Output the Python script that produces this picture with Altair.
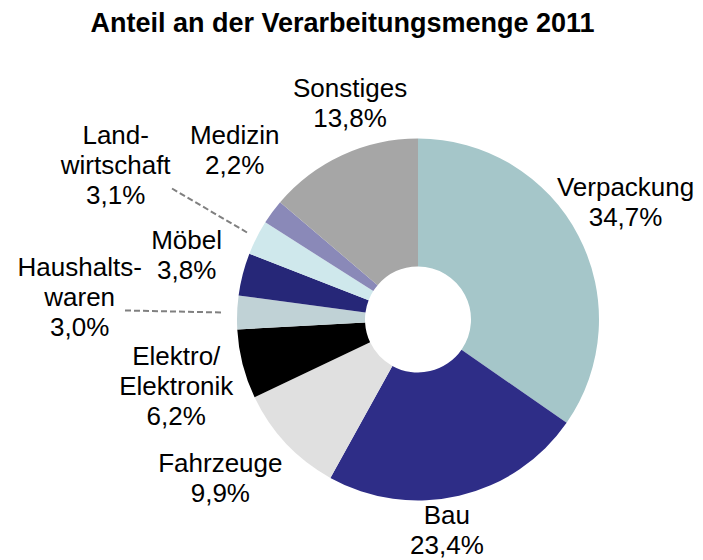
import math
import altair as alt
import pandas as pd

# ---- data ----
categories = ["Verpackung", "Bau", "Fahrzeuge", "Elektro/Elektronik", "Haushaltswaren",
              "Möbel", "Landwirtschaft", "Medizin", "Sonstiges"]
shares = [34.7, 23.4, 9.9, 6.2, 3.0, 3.8, 3.1, 2.2, 13.8]
label_names = ["Verpackung", "Bau", "Fahrzeuge", "Elektro/\nElektronik", "Haushalts-\nwaren",
               "Möbel", "Land-\nwirtschaft", "Medizin", "Sonstiges"]
colors = ["#A5C6C9", "#2E2D87", "#E0E0E0", "#000000", "#C0D2D6",
          "#262778", "#CFE8EC", "#8A89B8", "#A6A6A6"]

# ---- label placement (polar, block centre relative to the donut centre) ----
label_angle_deg = [60.7, 172.2, 231.1, 254.4, 273.6, 285.4, 296.9, 312.6, 342.5]
label_radius = [238, 213, 254, 251, 339, 240, 339, 249, 226]

# leader lines (offsets from centre, px)
conn_x1 = [-246, -293]
conn_y1 = [-131, -9]
conn_x2 = [-171, -195]
conn_y2 = [-87, -7]

W, H = 687, 512
CX = 410
TOP = 39
CY = 316.5 - TOP
R_OUT, R_IN = 181, 53
FONT = "Liberation Sans"
FS, LH = 26, 30


def fmt(v):
    return f"{v:.1f}".replace(".", ",") + "%"


labels_txt = [f"{n}\n{fmt(v)}" for n, v in zip(label_names, shares)]
lx, ly = [], []
for a, r, t in zip(label_angle_deg, label_radius, labels_txt):
    n = t.count("\n") + 1
    lx.append(CX + r * math.sin(math.radians(a)))
    # Vega anchors the first line; shift up so the block is centred
    ly.append(CY - r * math.cos(math.radians(a)) - (n - 1) * LH / 2)

df = pd.DataFrame({
    "cat": categories,
    "share": shares,
    "idx": list(range(len(categories))),
    "label": labels_txt,
    "lx": lx,
    "ly": ly,
})

conn = pd.DataFrame({
    "x1": [CX + v for v in conn_x1], "y1": [CY + v for v in conn_y1],
    "x2": [CX + v for v in conn_x2], "y2": [CY + v for v in conn_y2],
})

arcs = alt.Chart(df).mark_arc(innerRadius=R_IN, outerRadius=R_OUT).encode(
    theta=alt.Theta("share:Q", stack=True),
    order=alt.Order("idx:Q"),
    color=alt.Color("cat:N", scale=alt.Scale(domain=categories, range=colors), legend=None),
    x=alt.value(CX), y=alt.value(CY),
)

labels = alt.Chart(df).mark_text(
    font=FONT, fontSize=FS, lineBreak="\n", lineHeight=LH,
    align="center", baseline="middle", color="#000000",
).encode(
    x=alt.X("lx:Q", scale=None), y=alt.Y("ly:Q", scale=None),
    text="label:N",
)

leaders = alt.Chart(conn).mark_rule(color="#808080", strokeWidth=2, strokeDash=[6, 3]).encode(
    x=alt.X("x1:Q", scale=None), y=alt.Y("y1:Q", scale=None),
    x2="x2:Q", y2="y2:Q",
)

chart = alt.layer(arcs, leaders, labels).properties(
    width=W, height=H,
    padding={"top": 2, "left": 0, "right": 0, "bottom": 0},
    title=alt.TitleParams("Anteil an der Verarbeitungsmenge 2011", font=FONT, fontSize=27,
                          fontWeight="bold", color="#000000", anchor="middle", dx=-9),
).configure_view(stroke=None)

chart.save("out.html", embed_options={"renderer": "svg", "actions": False})
